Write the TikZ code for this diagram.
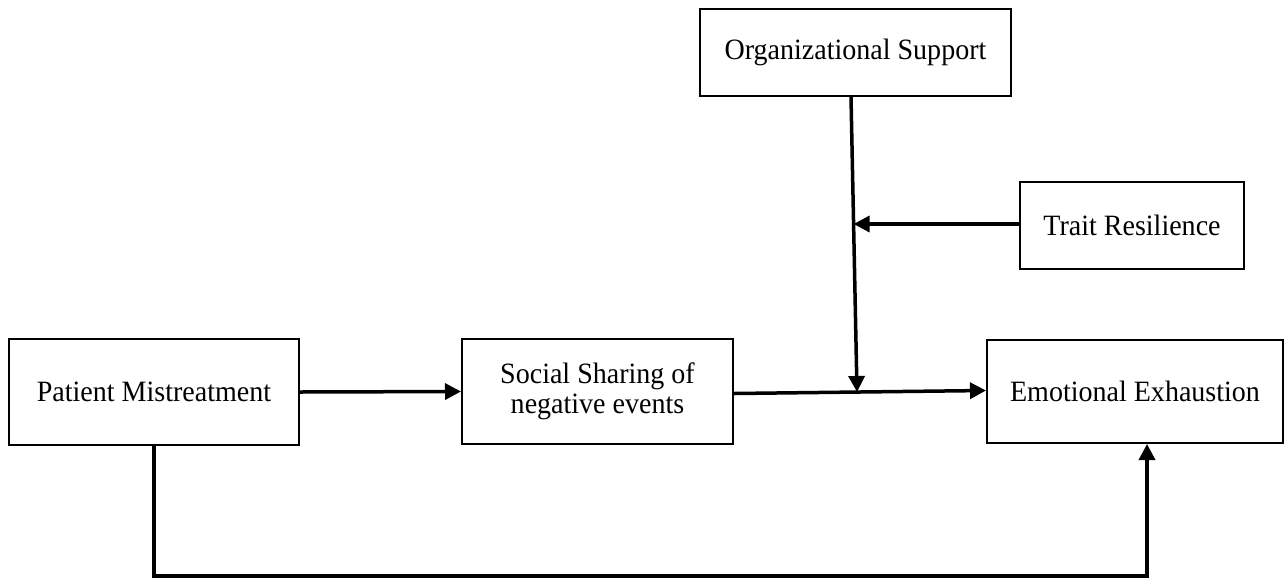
\documentclass[tikz,border=0pt]{standalone}
\usepackage{fontspec}
\setmainfont{Liberation Serif}[FakeStretch=0.95]
\usetikzlibrary{arrows.meta}
\begin{document}
\begin{tikzpicture}[x=1pt,y=-1pt,
  box/.style={draw, line width=2pt, align=center, inner sep=0pt,
    font=\fontsize{29.5}{30}\selectfont},
  arr/.style={line width=3.5pt, -{Triangle[length=16pt,width=16pt]}}]
\useasboundingbox[fill=white] (0,0) rectangle (1287,579);
\node[box, minimum width=311pt, minimum height=87pt] (o) at (855.5,52.5) {Organizational Support};
\node[box, minimum width=224pt, minimum height=87pt] (t) at (1132,225.5) {Trait Resilience};
\node[box, minimum width=290pt, minimum height=106pt] (p) at (154,392) {Patient Mistreatment};
\node[box, minimum width=271pt, minimum height=105pt] (s) at (597.5,391.5) {Social Sharing of\\negative events};
\node[box, minimum width=296pt, minimum height=103pt] (e) at (1135,391.5) {Emotional Exhaustion};
\coordinate (m) at (857,392);
\coordinate (n) at (853.6,224);
\coordinate (b) at (1147,576);
\draw[arr] (p.east) -- (s.west);
\draw[arr] ([yshift=-2pt]s.east) -- ([yshift=1pt]e.west);
\draw[arr] ([xshift=-4.5pt]o.south) -- (m);
\draw[arr] (t.west |- n) -- (n);
\draw[arr] (p.south) |- (b) -- (b |- e.south);
\end{tikzpicture}
\end{document}
